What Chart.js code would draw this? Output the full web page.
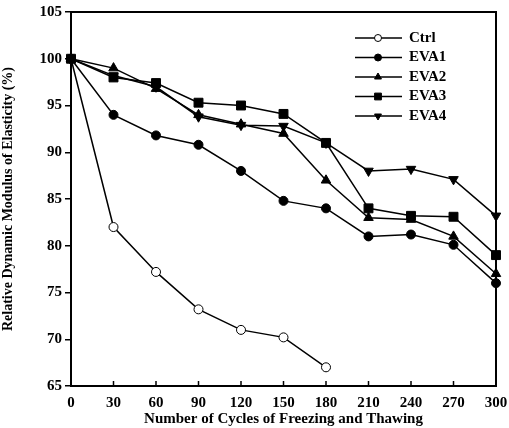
<!DOCTYPE html>
<html>
<head>
<meta charset="utf-8">
<script src="https://cdn.jsdelivr.net/npm/chart.js@4"></script>
<style>
  html, body { margin: 0; padding: 0; background: #fff; }
  #wrap { width: 509px; height: 428px; }
</style>
</head>
<body>
<div id="wrap"><canvas id="Linegraph" width="509" height="428"></canvas></div>
<script>
const cycles = [0, 30, 60, 90, 120, 150, 180, 210, 240, 270, 300];
const ctrl = [100, 82, 77.2, 73.2, 71, 70.2, 67];
const eva1 = [100, 94, 91.8, 90.8, 88, 84.8, 84, 81, 81.2, 80.1, 76];
const eva2 = [100, 99, 96.8, 94, 93, 92, 87, 83, 82.8, 81, 77];
const eva3 = [100, 98, 97.4, 95.3, 95, 94.1, 91, 84, 83.2, 83.1, 79];
const eva4 = [100, 98.2, 97, 93.8, 92.9, 92.8, 91, 88, 88.2, 87.1, 83.2];

const font = 'Liberation Serif';

function pts(arr) {
  return arr.map((v, i) => ({ x: cycles[i], y: v }));
}

function series(label, arr, style, extra) {
  return Object.assign({
    label: label,
    data: pts(arr),
    borderColor: '#000',
    backgroundColor: '#000',
    borderWidth: 1.5,
    pointStyle: style,
    pointRadius: 4.5,
    pointBorderWidth: 1,
    pointBackgroundColor: '#000',
    pointBorderColor: '#000',
    tension: 0,
    clip: false,
    order: 1
  }, extra || {});
}

// box frame, inner x ticks and the line+marker legend
const frame = {
  id: 'frame',
  beforeDatasetsDraw(chart) {
    const c = chart.ctx, a = chart.chartArea;
    c.save();
    c.strokeStyle = '#000';
    c.lineWidth = 2;
    c.strokeRect(a.left, a.top, a.right - a.left, a.bottom - a.top);
    const xs = chart.scales.x;
    c.lineWidth = 1.5;
    cycles.forEach(v => {
      const px = xs.getPixelForValue(v);
      c.beginPath(); c.moveTo(px, a.bottom); c.lineTo(px, a.bottom - 5); c.stroke();
    });
    c.restore();
  },
  afterDraw(chart) {
    const c = chart.ctx, a = chart.chartArea;
    c.save();
    const x0 = a.left + 284, y0 = a.top + 26, gap = 19.5;
    chart.data.datasets.forEach((ds, i) => {
      const y = y0 + i * gap;
      c.strokeStyle = '#000';
      c.lineWidth = 1.5;
      c.beginPath(); c.moveTo(x0, y); c.lineTo(x0 + 47, y); c.stroke();
      c.fillStyle = ds.pointBackgroundColor;
      c.lineWidth = 1;
      Chart.helpers.drawPoint(c, {
        pointStyle: ds.pointStyle,
        rotation: ds.pointRotation || 0,
        radius: ds.pointStyle === 'circle' ? 3.5 : ds.pointRadius - 1.5,
        borderWidth: 1
      }, x0 + 23, y);
      c.fillStyle = '#000';
      c.font = 'bold 15px ' + font;
      c.textBaseline = 'middle';
      c.fillText(ds.label, x0 + 54, y);
    });
    c.restore();
  }
};

new Chart(document.getElementById('Linegraph'), {
  type: 'line',
  data: {
    datasets: [
      series('Ctrl', ctrl, 'circle', { pointBackgroundColor: '#fff' }),
      series('EVA1', eva1, 'circle'),
      series('EVA2', eva2, 'triangle', { pointRadius: 5.5 }),
      series('EVA3', eva3, 'rect', { pointRadius: 6.3, order: 0 }),
      series('EVA4', eva4, 'triangle', { pointRadius: 5.5, pointRotation: 180 })
    ]
  },
  options: {
    responsive: false,
    animation: false,
    layout: { padding: { top: 12, right: 13, left: 0, bottom: 0 } },
    plugins: { legend: { display: false }, tooltip: { enabled: false } },
    scales: {
      x: {
        type: 'linear', min: 0, max: 300,
        afterFit: s => { s.height = 42; },
        ticks: { stepSize: 30, color: '#000', padding: 0, font: { family: font, size: 15, weight: 'bold' } },
        grid: { display: false },
        border: { display: false },
        title: { display: true, text: 'Number of Cycles of Freezing and Thawing', color: '#000', padding: 0,
          font: { family: font, size: 15, weight: 'bold' } }
      },
      y: {
        min: 65, max: 105,
        afterFit: s => { s.width = 71; },
        ticks: { stepSize: 5, color: '#000', padding: 3, font: { family: font, size: 15, weight: 'bold' } },
        grid: { drawOnChartArea: false, drawTicks: true, tickLength: 6, color: '#000', lineWidth: 1.5 },
        border: { display: false },
        title: { display: true, text: 'Relative Dynamic Modulus of Elasticity (%)', color: '#000', padding: 0,
          font: { family: font, size: 14, weight: 'bold' } }
      }
    }
  },
  plugins: [frame]
});
</script>
</body>
</html>
